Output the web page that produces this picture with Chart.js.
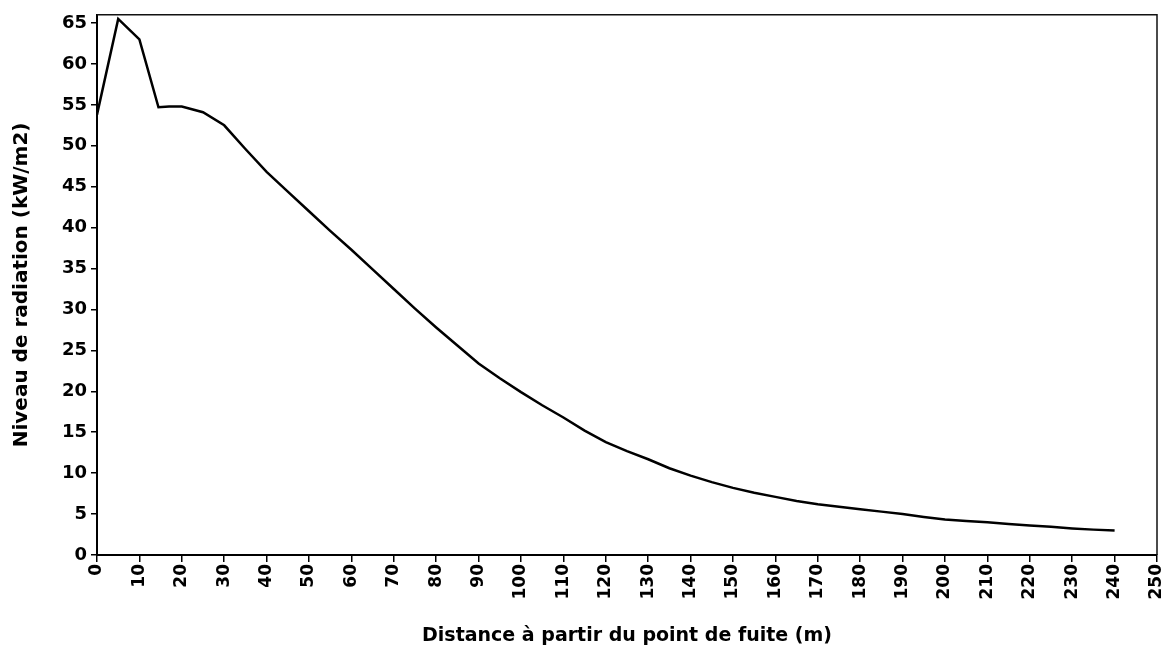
<!DOCTYPE html>
<html>
<head>
<meta charset="utf-8">
<script src="https://cdn.jsdelivr.net/npm/chart.js@4"></script>
<style>
html,body{margin:0;padding:0;background:#fff;}
#wrap{width:1168px;height:652px;position:relative;}
</style>
</head>
<body>
<div id="wrap"><canvas id="c" width="1168" height="652"></canvas></div>
<script>
const distances = [0,5,10,14.5,17,20,25,30,35,40,45,50,55,60,65,70,75,80,85,90,95,100,105,110,115,120,125,130,135,140,145,150,155,160,165,170,175,180,185,190,195,200,205,210,215,220,225,230,235,240];
const radiation = [53.8,65.5,63.0,54.7,54.8,54.8,54.1,52.5,49.6,46.8,44.4,42.0,39.6,37.3,34.9,32.5,30.1,27.8,25.6,23.4,21.6,19.9,18.3,16.8,15.2,13.8,12.7,11.7,10.6,9.7,8.9,8.2,7.6,7.1,6.6,6.2,5.9,5.6,5.3,5.0,4.65,4.35,4.15,4.0,3.8,3.6,3.45,3.25,3.1,3.0];
const yTickValues = [0,5,10,15,20,25,30,35,40,45,50,55,60,65];
const xTitle = 'Distance à partir du point de fuite (m)';
const yTitle = 'Niveau de radiation (kW/m2)';

const points = distances.map((d,i)=>({x:d, y:radiation[i]}));

const frame = {
  id:'frame',
  afterDraw(chart){
    const {ctx, chartArea:a} = chart;
    ctx.save();
    ctx.strokeStyle = '#111';
    ctx.lineWidth = 1.5;
    ctx.beginPath();
    ctx.moveTo(a.left, a.top);
    ctx.lineTo(a.right, a.top);
    ctx.lineTo(a.right, a.bottom);
    ctx.stroke();
    ctx.restore();
  }
};

const fam = '"DejaVu Sans", sans-serif';
const xTickFont = {family:fam, size:17, weight:'bold'};
const yTickFont = {family:fam, size:18, weight:'bold'};
const xTitleFont = {family:fam, size:19, weight:'bold'};
const yTitleFont = {family:fam, size:20, weight:'bold'};

new Chart(document.getElementById('c'), {
  type:'line',
  data:{datasets:[{data:points, borderColor:'#000', borderWidth:2.5, pointRadius:0, fill:false, tension:0}]},
  options:{
    responsive:false, animation:false,
    layout:{padding:{top:14, right:0, bottom:0, left:0}},
    plugins:{legend:{display:false}, tooltip:{enabled:false}},
    scales:{
      x:{
        type:'linear', min:0, max:250,
        afterFit(s){ s.height = 97; s.paddingRight = 11; s.paddingLeft = 0; },
        border:{color:'#000', width:2},
        grid:{drawOnChartArea:false, color:'#000', tickLength:7, lineWidth:1.5},
        ticks:{stepSize:10, minRotation:90, maxRotation:90, autoSkip:false, color:'#000', font:xTickFont, padding:2},
        title:{display:true, text:xTitle, color:'#000', font:xTitleFont, padding:{top:0,bottom:5}}
      },
      y:{
        min:0, max:66,
        afterFit(s){ s.width = 97; },
        afterBuildTicks(s){ s.ticks = yTickValues.map(v => ({value:v})); },
        border:{color:'#000', width:2},
        grid:{drawOnChartArea:false, color:'#000', tickLength:6, lineWidth:1.5},
        ticks:{color:'#000', font:yTickFont, padding:4},
        title:{display:true, text:yTitle, color:'#000', font:yTitleFont, padding:{top:10,bottom:0}}
      }
    }
  },
  plugins:[frame]
});
</script>
</body>
</html>
